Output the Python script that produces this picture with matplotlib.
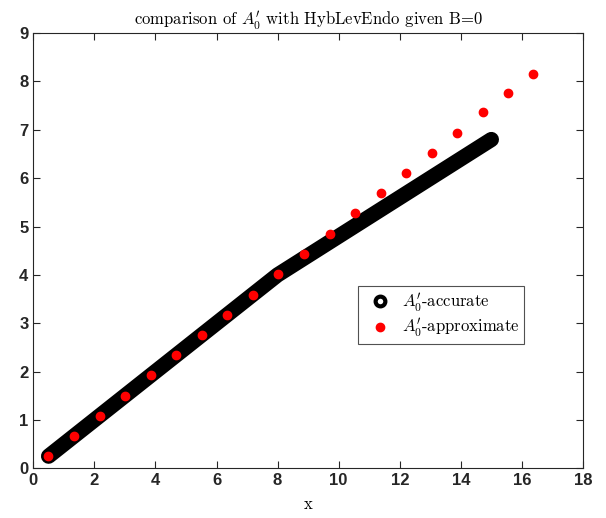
import matplotlib
matplotlib.use("Agg")
import matplotlib.pyplot as plt
from matplotlib.lines import Line2D

plt.rcParams['mathtext.fontset'] = 'cm'

# accurate curve
x_acc = [0.5, 2, 4, 6, 8, 10, 12, 14, 15]
y_acc = [0.25, 1.0, 2.0, 3.0, 4.0, 4.8, 5.6, 6.4, 6.8]

# approximate points (red dots)
x_app = [0.49, 1.33, 2.17, 3.01, 3.84, 4.67, 5.51, 6.35, 7.19, 8.02,
         8.86, 9.70, 10.54, 11.38, 12.20, 13.05, 13.88, 14.71, 15.54, 16.35]
y_app = [0.25, 0.67, 1.09, 1.50, 1.92, 2.34, 2.75, 3.17, 3.59, 4.01,
         4.43, 4.85, 5.27, 5.69, 6.11, 6.52, 6.94, 7.36, 7.77, 8.16]

xticks = [0, 2, 4, 6, 8, 10, 12, 14, 16, 18]
yticks = [0, 1, 2, 3, 4, 5, 6, 7, 8, 9]

fig = plt.figure(figsize=(6.06, 5.18), dpi=100)
ax = fig.add_axes([0.055, 0.096, 0.907, 0.840])

# thick black band
ax.plot(x_acc, y_acc, color='k', linewidth=11, solid_capstyle='round',
        solid_joinstyle='round', zorder=2)
ax.plot(x_app, y_app, linestyle='none', marker='o', ms=6, color='red',
        mec='red', zorder=3)

ax.set_xlim(0, 18)
ax.set_ylim(0, 9)
ax.set_xticks(xticks)
ax.set_yticks(yticks)

gray = '#262626'
for s in ax.spines.values():
    s.set_color(gray)
    s.set_linewidth(0.8)
ax.tick_params(direction='in', length=5, width=0.8, colors=gray,
               top=True, right=True, labelsize=12)
for lab in ax.get_xticklabels() + ax.get_yticklabels():
    lab.set_fontweight('bold')
    lab.set_fontfamily('Liberation Sans')

ax.set_title(r"comparison of $A_0'$ with HybLevEndo given B=0",
             fontfamily='cmr10', fontsize=12, pad=6)
ax.set_xlabel('x', fontfamily='cmr10', fontsize=12, labelpad=6)

handles = [
    Line2D([], [], linestyle='none', marker='o', color='k', mfc='white',
           ms=7, mew=3),
    Line2D([], [], linestyle='none', marker='o', color='red', ms=6),
]
labels = [r"$A_0'$-accurate", r"$A_0'$-approximate"]
leg = ax.legend(handles, labels, loc='upper left',
                bbox_to_anchor=(0.591, 0.418), borderaxespad=0,
                frameon=True, fancybox=False,
                edgecolor=gray, prop={'family': 'cmr10', 'size': 12},
                handletextpad=0.3, borderpad=0.3, labelspacing=0.15,
                handlelength=2.0)
leg.get_frame().set_linewidth(0.8)

fig.savefig('out.png', dpi=100)
